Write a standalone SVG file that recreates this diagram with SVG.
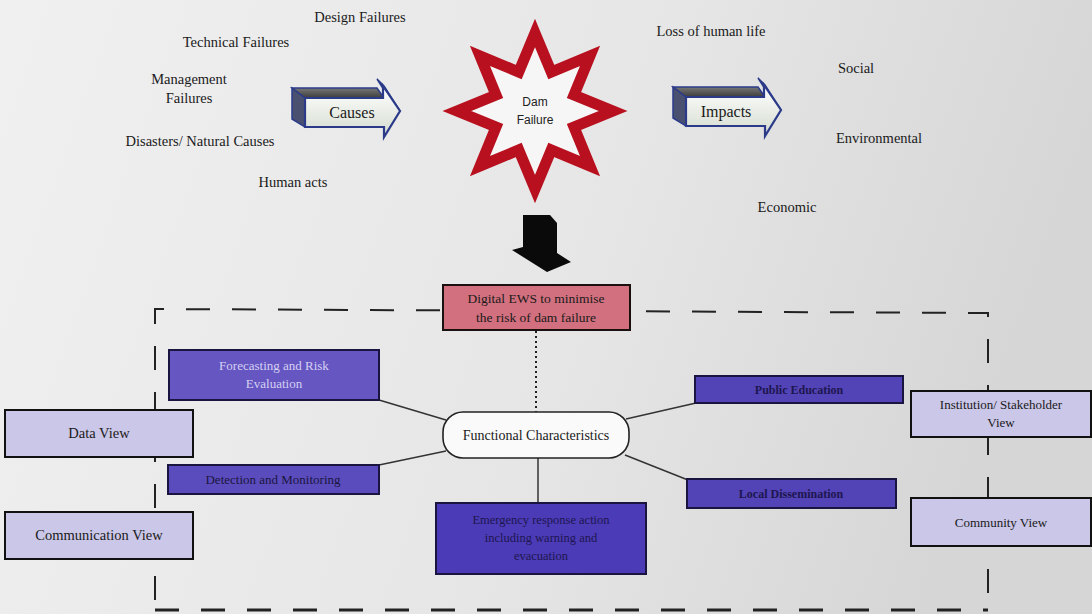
<svg xmlns="http://www.w3.org/2000/svg" width="1092" height="614" viewBox="0 0 1092 614">
<defs>
<linearGradient id="bg" x1="0" y1="0" x2="1" y2="0.2">
<stop offset="0" stop-color="#f0f0f0"/>
<stop offset="0.6" stop-color="#e6e6e6"/>
<stop offset="1" stop-color="#d6d6d6"/>
</linearGradient>
<linearGradient id="face" x1="0" y1="0" x2="0" y2="1">
<stop offset="0" stop-color="#ffffff"/>
<stop offset="1" stop-color="#d4dccf"/>
</linearGradient>
<linearGradient id="top" x1="0" y1="0" x2="0" y2="1">
<stop offset="0" stop-color="#777"/>
<stop offset="1" stop-color="#3c3c3c"/>
</linearGradient>
<style>
.t{font-family:"Liberation Serif","Times New Roman",serif;font-size:14.5px;fill:#1a1a1a;text-anchor:middle}
.s{font-family:"Liberation Sans",Arial,sans-serif;font-size:12px;fill:#222;text-anchor:middle}
.purple{fill:#5243b6;stroke:#1a1440;stroke-width:2}
.view{fill:#cbc7e8;stroke:#111;stroke-width:2}
.pt{font-family:"Liberation Serif","Times New Roman",serif;font-size:13px;fill:#1e1650;text-anchor:middle}
.conn{stroke:#333;stroke-width:1.5;fill:none}
</style>
</defs>
<rect width="1092" height="614" fill="url(#bg)"/>

<g id="causes-list">
<text class="t" x="360" y="22">Design Failures</text>
<text class="t" x="236" y="47">Technical Failures</text>
<text class="t" x="189" y="84">Management</text>
<text class="t" x="189" y="103">Failures</text>
<text class="t" x="200" y="146">Disasters/ Natural Causes</text>
<text class="t" x="293" y="187">Human acts</text>
</g>

<g id="impacts-list">
<text class="t" x="711" y="36">Loss of human life</text>
<text class="t" x="856" y="73">Social</text>
<text class="t" x="879" y="143">Environmental</text>
<text class="t" x="787" y="212">Economic</text>
</g>

<g id="causes-arrow">
<polygon points="292,88 377,88 384,98 305,98" fill="url(#top)" stroke="#2b3b8a" stroke-width="1.5"/>
<polygon points="292,88 305,98 305,127 292,119" fill="#4a5170" stroke="#2b3b8a" stroke-width="1.5"/>
<polygon points="377,79 384,86 400,111 393,104" fill="#3b4a90" stroke="#2b3b8a" stroke-width="1.5"/>
<polygon points="305,98 383,98 383,86 400,111 384,137 384,127 305,127" fill="url(#face)" stroke="#2b3b8a" stroke-width="2.2"/>
<text class="t" x="352" y="118" style="font-size:16px">Causes</text>
</g>

<g id="impacts-arrow" transform="translate(381,-1)">
<polygon points="292,88 377,88 384,98 305,98" fill="url(#top)" stroke="#2b3b8a" stroke-width="1.5"/>
<polygon points="292,88 305,98 305,127 292,119" fill="#4a5170" stroke="#2b3b8a" stroke-width="1.5"/>
<polygon points="377,79 384,86 400,111 393,104" fill="#3b4a90" stroke="#2b3b8a" stroke-width="1.5"/>
<polygon points="305,98 383,98 383,86 400,111 384,137 384,127 305,127" fill="url(#face)" stroke="#2b3b8a" stroke-width="2.2"/>
<text class="t" x="345" y="118" style="font-size:16px">Impacts</text>
</g>

<g id="dam-failure">
<polygon points="535,33 551.3,72 590,56 574,95 613,111 574,127 590,166 551.3,150 535,189 518.7,150 480,166 496,127 457,111 496,95 480,56 518.7,72" fill="#f6f6f6" stroke="#b8101e" stroke-width="11" stroke-linejoin="miter" stroke-miterlimit="10"/>
<text class="s" x="535" y="106">Dam</text>
<text class="s" x="535" y="124">Failure</text>
</g>

<g id="down-arrow">
<polygon points="523,215 550,215 557,223 557,253 571,262 547,272 512,250 523,247" fill="#0a0a0a"/>
</g>

<g id="connectors">
<path d="M155,600 L155,309 L988,313 L988,614" fill="none" stroke="#222" stroke-width="2" stroke-dasharray="24 22"/>
<path d="M155,610 L988,610" fill="none" stroke="#222" stroke-width="3" stroke-dasharray="24 22"/>
<line x1="536" y1="331" x2="536" y2="412" stroke="#222" stroke-width="2" stroke-dasharray="2 3"/>
<line class="conn" x1="379" y1="400" x2="446" y2="420"/>
<line class="conn" x1="379" y1="465" x2="446" y2="451"/>
<line class="conn" x1="626" y1="419" x2="696" y2="403"/>
<line class="conn" x1="625" y1="455" x2="688" y2="480"/>
<line class="conn" x1="538" y1="458" x2="538" y2="503"/>
</g>

<g id="digital-ews">
<rect x="443" y="285" width="187" height="45" fill="#d2707f" stroke="#1a1010" stroke-width="2"/>
<text class="t" x="536" y="303" style="font-size:13.5px">Digital EWS to minimise</text>
<text class="t" x="536" y="322" style="font-size:13.5px">the risk of dam failure</text>
</g>

<g id="functional">
<rect x="443" y="412" width="186" height="46" rx="20" fill="#fafafa" stroke="#222" stroke-width="1.6"/>
<text class="t" x="536" y="440" style="font-size:14px">Functional Characteristics</text>
</g>

<g id="forecasting">
<rect class="purple" x="169" y="350" width="210" height="50" style="fill:#6556c2"/>
<text class="pt" x="274" y="370" style="fill:#d6d0f2">Forecasting and Risk</text>
<text class="pt" x="274" y="388" style="fill:#d6d0f2">Evaluation</text>
</g>

<g id="detection">
<rect class="purple" x="168" y="465" width="211" height="29" style="fill:#5a4cbd"/>
<text class="pt" x="273" y="484" style="fill:#1c1640">Detection and Monitoring</text>
</g>

<g id="public-education">
<rect class="purple" x="695" y="376" width="208" height="27"/>
<text class="pt" x="799" y="394" style="font-size:12px;font-weight:bold">Public Education</text>
</g>

<g id="local-dissemination">
<rect class="purple" x="687" y="479" width="209" height="29"/>
<text class="pt" x="791" y="498" style="font-size:12px;font-weight:bold">Local Dissemination</text>
</g>

<g id="emergency">
<rect class="purple" x="436" y="503" width="210" height="71" style="fill:#4b3bb6"/>
<text class="pt" x="541" y="524" style="font-size:12.5px">Emergency response action</text>
<text class="pt" x="541" y="542" style="font-size:12.5px">including warning and</text>
<text class="pt" x="541" y="560" style="font-size:12.5px">evacuation</text>
</g>

<g id="data-view">
<rect class="view" x="5" y="410" width="188" height="47"/>
<text class="t" x="99" y="438">Data View</text>
</g>

<g id="communication-view">
<rect class="view" x="5" y="512" width="188" height="47"/>
<text class="t" x="99" y="540">Communication View</text>
</g>

<g id="institution-view">
<rect class="view" x="911" y="391" width="180" height="46"/>
<text class="t" x="1001" y="409" style="font-size:13px">Institution/ Stakeholder</text>
<text class="t" x="1001" y="427" style="font-size:13px">View</text>
</g>

<g id="community-view">
<rect class="view" x="911" y="498" width="180" height="48"/>
<text class="t" x="1001" y="527" style="font-size:13px">Community View</text>
</g>
</svg>
